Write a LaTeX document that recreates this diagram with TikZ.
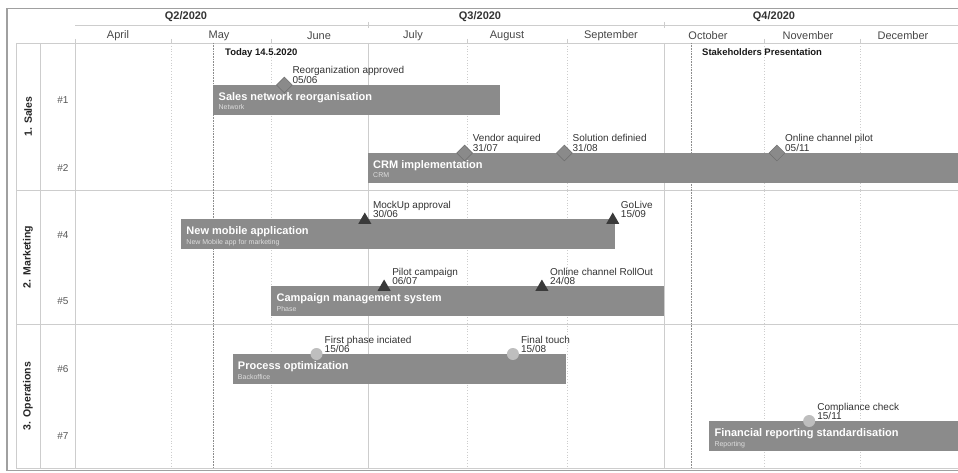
\documentclass[tikz,border=0pt]{standalone}
\usepackage{fontspec}
\setmainfont{Liberation Sans}
\usetikzlibrary{shapes.geometric}

\definecolor{framecol}{HTML}{A0A0A0}
\definecolor{gridcol}{HTML}{CDCDCD}
\definecolor{markcol}{HTML}{6F6F6F}
\definecolor{barcol}{HTML}{8B8B8B}
\definecolor{subcol}{HTML}{DEDEDE}
\definecolor{hdrcol}{HTML}{333333}
\definecolor{rowcol}{HTML}{555555}
\definecolor{diamondcol}{HTML}{8A8A8A}
\definecolor{trianglecol}{HTML}{3A3A3A}
\definecolor{circlecol}{HTML}{BEBEBE}

% one Gantt bar: name, first day, last day, top edge, title, subtitle
\newcommand\ganttbar[6]{%
  \path[barbox] ({dd(#2)},#4) rectangle ({dd(#3)},{#4+30});
  \coordinate (#1) at ({dd(#2)},#4);
  \node[bartitle] (#1-title) at ({dd(#2)+5},{#4+15.5}) {#5};
  \node[barsub] (#1-sub) at ({dd(#2)+5},{#4+25}) {#6};
}
% one milestone on a bar: name, day, bar top, marker style, label, date
\newcommand\mstone[6]{%
  \node[#4] (#1) at ({dd(#2)},#3) {};
  \node[mslabel] (#1-name) at ({dd(#2)+8},{#3-11}) {#5};
  \node[mslabel] (#1-date) at ({dd(#2)+8},{#3-1.5}) {#6};
}

\begin{document}
\begin{tikzpicture}[x=1pt,y=-1pt,
  % day 0 is 1 April 2020
  declare function={dd(\d)=75+\d*3.22;},
  barbox/.style={fill=barcol},
  bartitle/.style={anchor=base west,inner sep=0pt,text=white,
    font=\fontsize{11}{11}\selectfont\bfseries},
  barsub/.style={anchor=base west,inner sep=0pt,text=subcol,
    font=\fontsize{7}{7}\selectfont},
  mslabel/.style={anchor=base west,inner sep=0pt,text=hdrcol,
    font=\fontsize{10}{10}\selectfont},
  msdiamond/.style={diamond,minimum width=16pt,minimum height=16pt,inner sep=0pt,
    fill=diamondcol,draw=markcol,line width=0.5pt},
  mstriangle/.style={regular polygon,regular polygon sides=3,minimum size=15pt,
    inner sep=0pt,fill=trianglecol,yshift=-1pt},
  mscircle/.style={circle,minimum size=12pt,inner sep=0pt,fill=circlecol},
  quarter/.style={font=\fontsize{11}{12}\selectfont\bfseries,text=hdrcol},
  month/.style={font=\fontsize{11}{12}\selectfont,text=hdrcol!90!white},
  rowlab/.style={font=\fontsize{10}{11}\selectfont,text=rowcol},
  grouplab/.style={font=\fontsize{10.5}{11}\selectfont\bfseries,text=black!85,rotate=90},
  keyday/.style={font=\fontsize{9.5}{10}\selectfont\bfseries,text=black!90,anchor=base west,inner sep=0pt},
  gridsolid/.style={draw=gridcol,line width=0.8pt},
  griddot/.style={draw=gridcol,line width=0.8pt,dotted},
  keyline/.style={draw=black!45,line width=0.6pt,densely dotted}
]
\useasboundingbox (0,0) rectangle (958,473);
\fill[white] (0,0) rectangle (958,473);

% ---- time scale header ----
\node[quarter] (q2) at (186,17) {Q2/2020};
\node[quarter] (q3) at (480,17) {Q3/2020};
\node[quarter] (q4) at (774,17) {Q4/2020};
\draw[gridsolid] (75,25) -- (958,25);
\foreach \d in {91,183} \draw[gridsolid] ({dd(\d)},22) -- ({dd(\d)},28);

\node[month] (m4)  at (118,36) {April};
\node[month] (m5)  at (219,36) {May};
\node[month] (m6)  at (319,36) {June};
\node[month] (m7)  at (413,36) {July};
\node[month] (m8)  at (507,36) {August};
\node[month] (m9)  at (611,36) {September};
\node[month] (m10) at (708,36) {October};
\node[month] (m11) at (808,36) {November};
\node[month] (m12) at (903,36) {December};
\foreach \d in {30,61,122,153,214,244} \draw[gridsolid] ({dd(\d)},39) -- ({dd(\d)},43);

% ---- table grid ----
\foreach \d in {30,61,122,153,214,244} \draw[griddot] ({dd(\d)},43) -- ({dd(\d)},468);
\foreach \d in {91,183} \draw[gridsolid] ({dd(\d)},43) -- ({dd(\d)},468);
\draw[gridsolid] (16,43) -- (958,43);
\draw[gridsolid] (16,43) -- (16,468);
\draw[gridsolid] (40,43) -- (40,468);
\draw[gridsolid] (75,39) -- (75,468);
\draw[gridsolid] (16,190) -- (958,190);
\draw[gridsolid] (16,324) -- (958,324);
\draw[gridsolid] (16,468) -- (958,468);

% key dates
\draw[keyline] ({dd(43)},43) -- ({dd(43)},468);
\draw[keyline] ({dd(191.3)},43) -- ({dd(191.3)},468);
\node[keyday] (today) at ({dd(43)+11.5},55.5) {Today 14.5.2020};
\node[keyday] (stake) at ({dd(191.3)+11},55.5) {Stakeholders Presentation};

% ---- groups and rows ----
\node[grouplab] (g1) at (28,116.5) {1. Sales};
\node[grouplab] (g2) at (28,257) {2. Marketing};
\node[grouplab] (g3) at (28,396) {3. Operations};
\node[rowlab] (r1) at (63,100) {\#1};
\node[rowlab] (r2) at (63,168) {\#2};
\node[rowlab] (r4) at (63,235) {\#4};
\node[rowlab] (r5) at (63,301) {\#5};
\node[rowlab] (r6) at (63,369) {\#6};
\node[rowlab] (r7) at (63,436) {\#7};

% ---- bars ----
\ganttbar{b1}{43}{132}{85}{Sales network reorganisation}{Network}
\ganttbar{b2}{91}{276}{153}{CRM implementation}{CRM}
\ganttbar{b4}{33}{167.7}{219}{New mobile application}{New Mobile app for marketing}
\ganttbar{b5}{61}{183}{286}{Campaign management system}{Phase}
\ganttbar{b6}{49}{152.5}{354}{Process optimization}{Backoffice}
\ganttbar{b7}{197}{276}{421}{Financial reporting standardisation}{Reporting}

% ---- milestones ----
\mstone{s1}{65}{85}{msdiamond}{Reorganization approved}{05/06}
\mstone{s2}{121}{153}{msdiamond}{Vendor aquired}{31/07}
\mstone{s3}{152}{153}{msdiamond}{Solution definied}{31/08}
\mstone{s4}{218}{153}{msdiamond}{Online channel pilot}{05/11}
\mstone{t1}{90}{219}{mstriangle}{MockUp approval}{30/06}
\mstone{t2}{167}{219}{mstriangle}{GoLive}{15/09}
\mstone{t3}{96}{286}{mstriangle}{Pilot campaign}{06/07}
\mstone{t4}{145}{286}{mstriangle}{Online channel RollOut}{24/08}
\mstone{c1}{75}{354}{mscircle}{First phase inciated}{15/06}
\mstone{c2}{136}{354}{mscircle}{Final touch}{15/08}
\mstone{c3}{228}{421}{mscircle}{Compliance check}{15/11}

% ---- outer frame ----
\draw[framecol,line width=1.5pt] (7,8.5) -- (958,8.5);
\draw[framecol,line width=1.5pt] (7,8.5) -- (7,470.5) -- (958,470.5);
\end{tikzpicture}
\end{document}
